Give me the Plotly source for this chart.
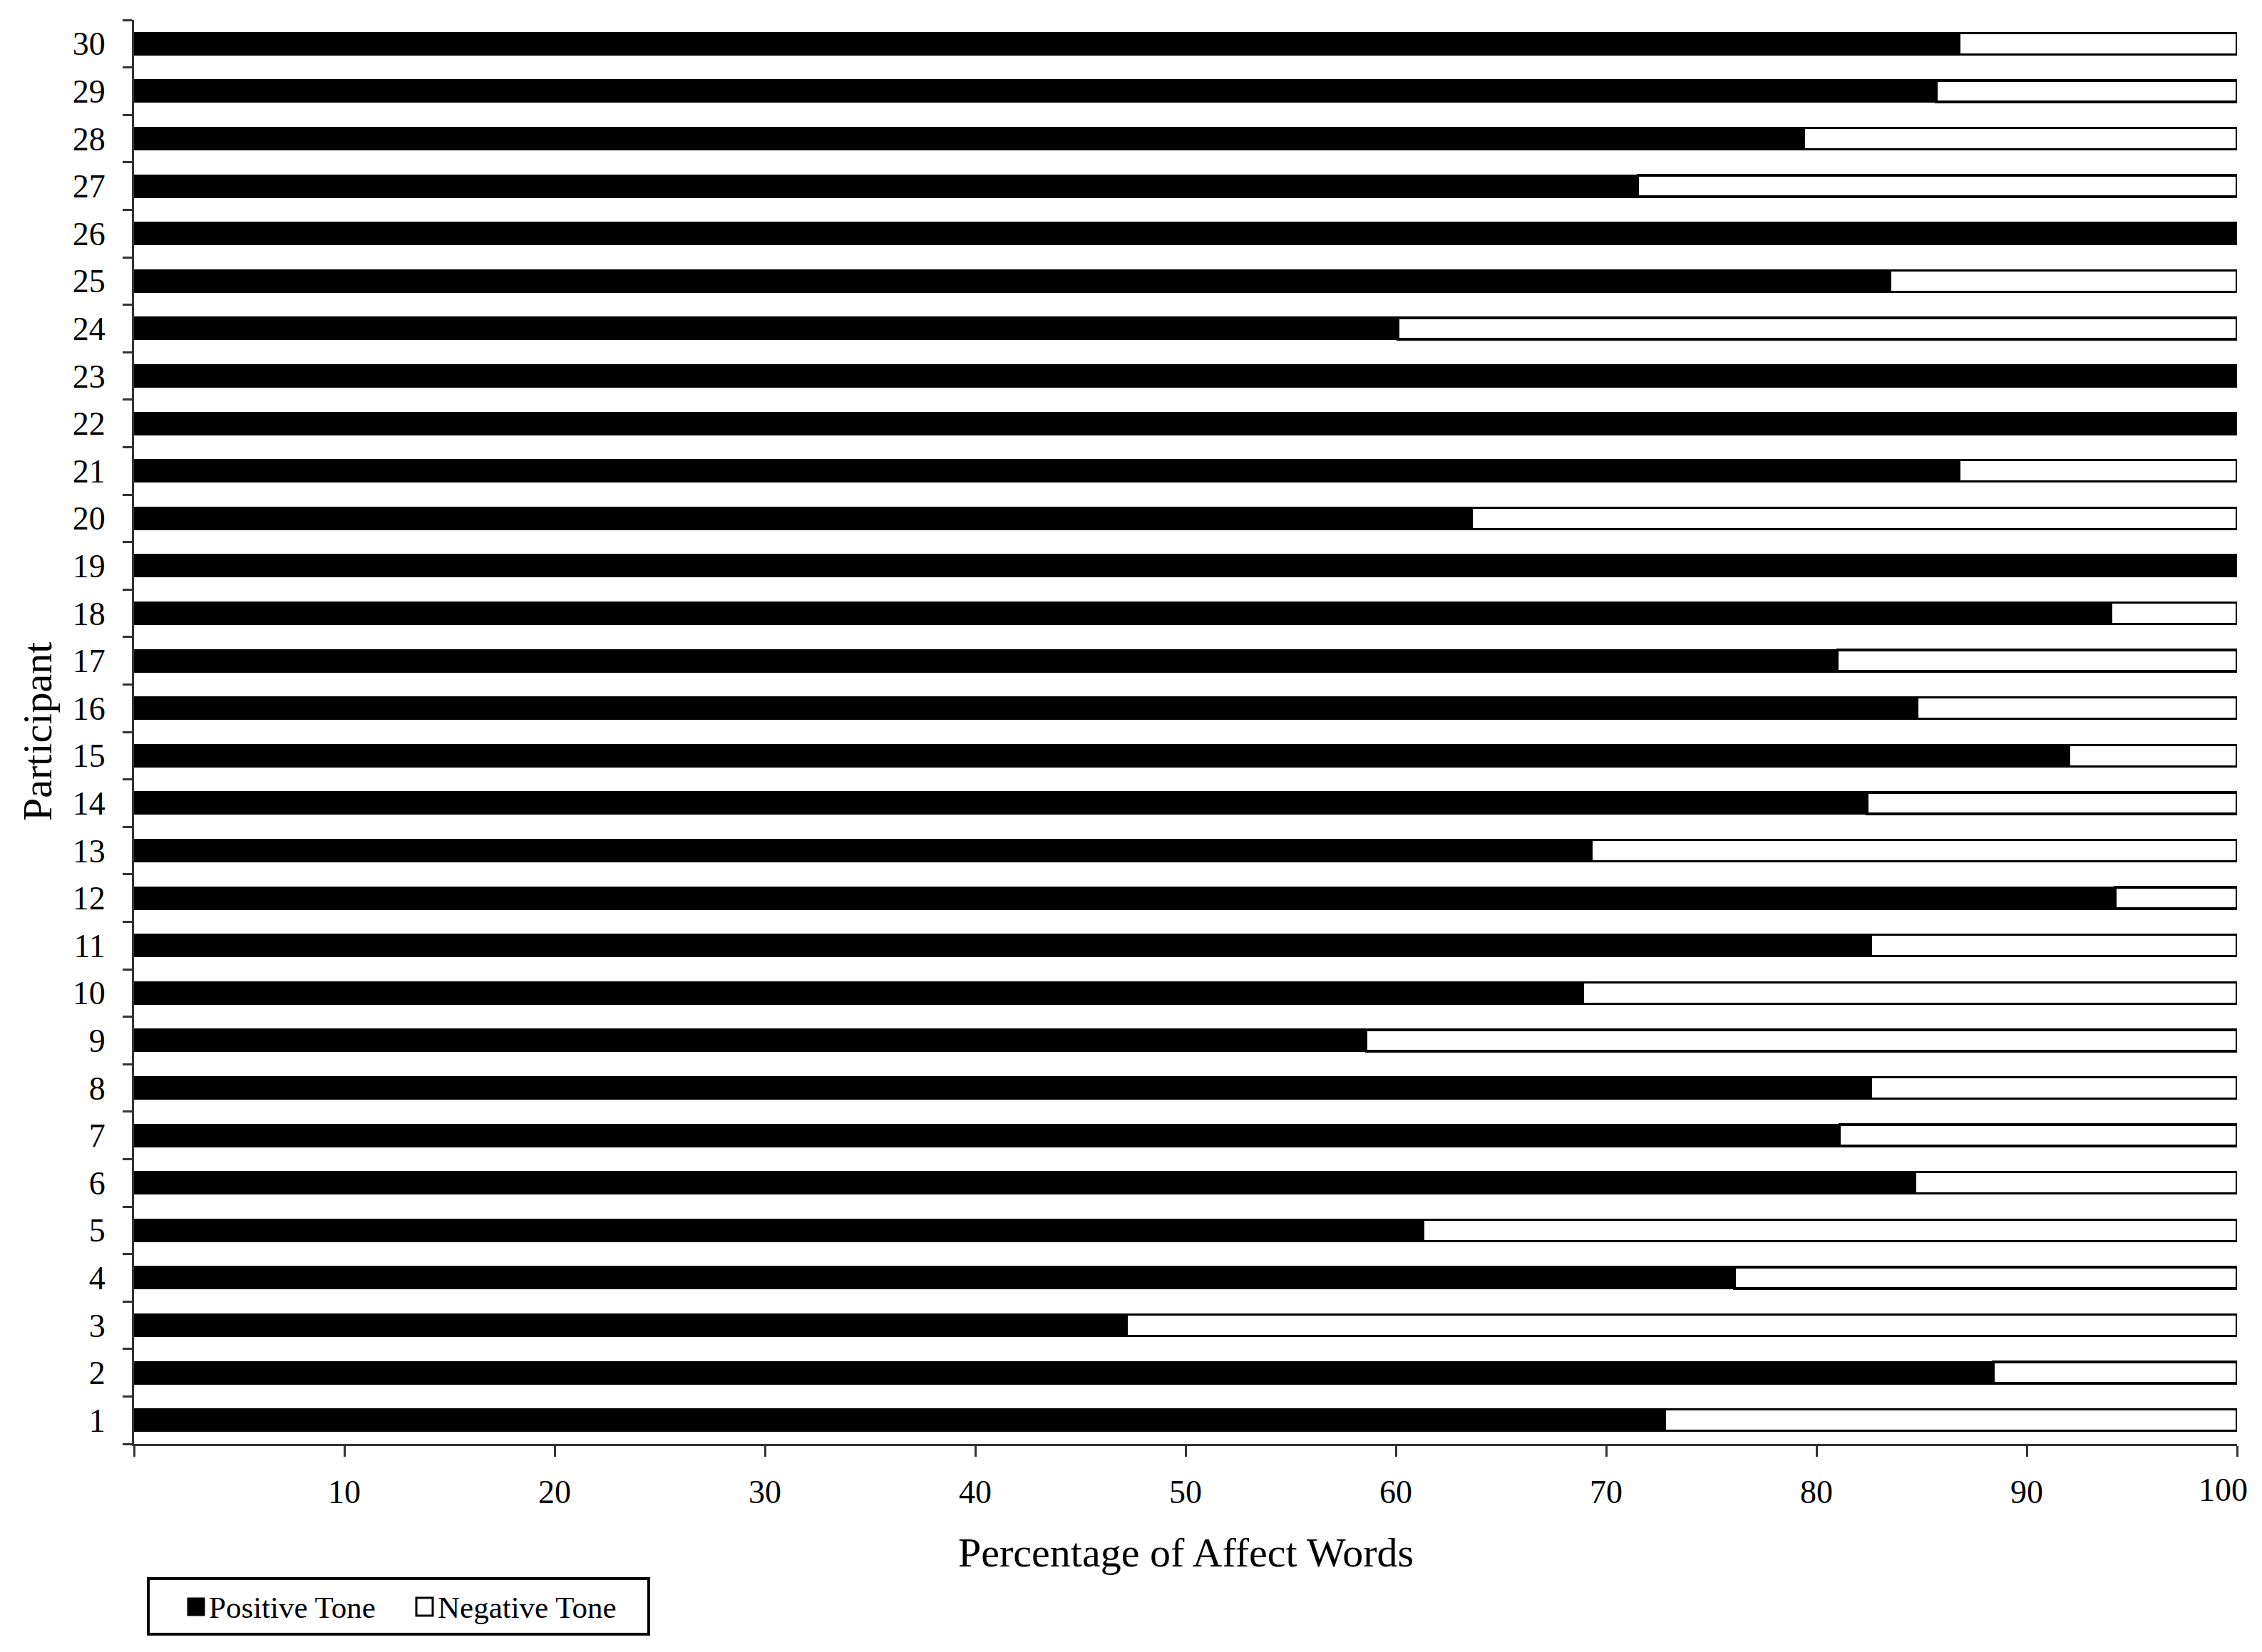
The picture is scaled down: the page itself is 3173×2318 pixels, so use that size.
import plotly.graph_objects as go

FONTE = 'Liberation Serif'
COR_EIXO = '#333333'

participantes = ['1', '2', '3', '4', '5', '6', '7', '8', '9', '10',
                 '11', '12', '13', '14', '15', '16', '17', '18', '19', '20',
                 '21', '22', '23', '24', '25', '26', '27', '28', '29', '30']
positivo = [72.8, 88.4, 47.2, 76.1, 61.3, 84.7, 81.1, 82.6, 58.6, 68.9,
            82.6, 94.2, 69.3, 82.4, 92.0, 84.8, 81.0, 94.0, 100.0, 63.6,
            86.8, 100.0, 100.0, 60.1, 83.5, 100.0, 71.5, 79.4, 85.7, 86.8]
negativo = [27.2, 11.6, 52.8, 23.9, 38.7, 15.3, 18.9, 17.4, 41.4, 31.1,
            17.4, 5.8, 30.7, 17.6, 8.0, 15.2, 19.0, 6.0, 0.0, 36.4,
            13.2, 0.0, 0.0, 39.9, 16.5, 0.0, 28.5, 20.6, 14.3, 13.2]
x_ticks = [0, 10, 20, 30, 40, 50, 60, 70, 80, 90, 100]
x_labels = ['', '10', '20', '30', '40', '50', '60', '70', '80', '90', '100']
legenda = ['Positive Tone', 'Negative Tone']

fig = go.Figure()
fig.add_trace(go.Bar(
    y=participantes, x=positivo, orientation='h', name=legenda[0],
    marker=dict(color='black', line=dict(color='black', width=3)),
    showlegend=False,
))
fig.add_trace(go.Bar(
    y=participantes, x=negativo, orientation='h', name=legenda[1],
    marker=dict(color='white', line=dict(color='black', width=3.5)),
    showlegend=False,
))

# a página tem 8px de margem no body, por isso o figure começa em (8, 8)
OFF = 8
FIG_W, FIG_H = 3173 - 2 * OFF, 2318 - 2 * OFF
# área do gráfico na imagem de referência (px): x 188..3138, y 28..2026
W, H, L, T = 2950, 1998, 188, 28
def px(x):
    return (x - L) / W
def py(y):
    return 1 - (y - T) / H

# legenda desenhada à mão (caixa + quadradinhos + texto)
fig.add_shape(type='rect', xref='paper', yref='paper',
              x0=px(208), x1=px(910), y0=py(2215), y1=py(2293),
              line=dict(color='black', width=4), fillcolor='white')
fig.add_shape(type='rect', xref='paper', yref='paper',
              x0=px(263), x1=px(287), y0=py(2242), y1=py(2267),
              line=dict(color='black', width=1), fillcolor='black')
fig.add_shape(type='rect', xref='paper', yref='paper',
              x0=px(584), x1=px(607), y0=py(2242), y1=py(2267),
              line=dict(color='black', width=3), fillcolor='white')
for nome, x0 in zip(legenda, [291, 612]):
    fig.add_annotation(text=nome, xref='paper', yref='paper', x=px(x0), y=py(2255),
                       xanchor='left', yanchor='middle', showarrow=False,
                       font=dict(family=FONTE, size=43, color='black'))

# o rótulo "100" no original fica encostado à borda, um pouco à esquerda do tick
fig.add_annotation(text=x_labels[-1], xref='x', yref='paper', x=x_ticks[-1], y=py(2090),
                   xanchor='right', yanchor='middle', xshift=17, showarrow=False,
                   font=dict(family=FONTE, size=46, color='black'))

fig.add_annotation(text='Percentage of Affect Words', xref='paper', yref='paper',
                   x=0.5, y=py(2178), xanchor='center', yanchor='middle', showarrow=False,
                   font=dict(family=FONTE, size=58, color='black'))
fig.add_annotation(text='Participant', xref='paper', yref='paper',
                   x=px(52), y=0.5, textangle=-90, xanchor='center', yanchor='middle',
                   showarrow=False, font=dict(family=FONTE, size=58, color='black'))

fig.update_layout(
    barmode='stack',
    bargap=0.55,
    width=FIG_W, height=FIG_H,
    margin=dict(l=L - OFF, r=FIG_W - (L - OFF) - W, t=T - OFF,
                b=FIG_H - (T - OFF) - H, pad=0),
    plot_bgcolor='white', paper_bgcolor='white',
    font=dict(family=FONTE, size=46, color='black'),
    xaxis=dict(range=[0, 100], tickvals=x_ticks, ticktext=x_labels[:-1] + [''],
               showgrid=False, zeroline=False, showline=True, linecolor=COR_EIXO,
               linewidth=3, ticks='outside', ticklen=15, tickwidth=3, tickcolor=COR_EIXO,
               ticklabelstandoff=10, automargin=False),
    yaxis=dict(type='category', categoryorder='array', categoryarray=participantes,
               tickson='boundaries', showgrid=False, zeroline=False, showline=True,
               linecolor=COR_EIXO, linewidth=3, ticks='outside', ticklen=13,
               tickwidth=3, tickcolor=COR_EIXO, ticklabelstandoff=28, automargin=False),
)

fig.write_html('out.html')
